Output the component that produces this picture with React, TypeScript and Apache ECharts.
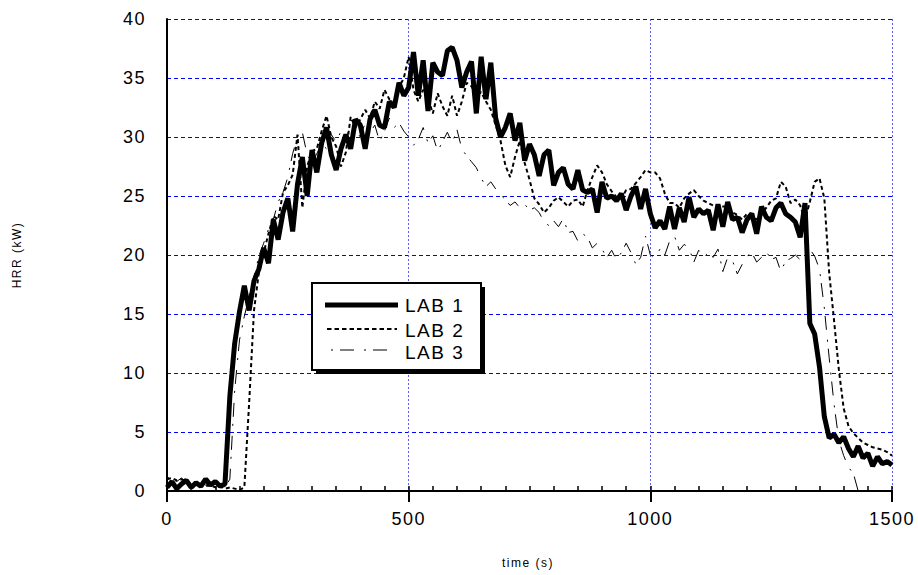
import React, { useEffect, useRef } from "react";
import * as echarts from "echarts";

// sampled every 10 s
const lab1: number[] = [
  0.3, 0.8, 0.2, 0.6, 0.9, 0.3, 0.7, 0.4, 1.0, 0.5,
  0.8, 0.4, 0.6, 8.0, 12.5, 15.2, 17.4, 15.3, 17.8, 18.8,
  20.6, 19.3, 23.0, 21.3, 23.6, 24.8, 22.0, 26.0, 28.3, 25.0,
  28.9, 27.0, 29.5, 30.8, 28.5, 27.2, 29.0, 30.2, 29.0, 31.5,
  31.0, 29.0, 31.5, 32.3, 31.0, 30.8, 33.0, 32.5, 34.6, 33.5,
  34.2, 37.2, 33.5, 36.5, 32.2, 36.3, 35.5, 35.2, 37.3, 37.6,
  36.5, 34.2, 35.5, 36.4, 32.0, 36.8, 33.2, 36.3, 31.6, 30.0,
  30.8, 32.0, 29.7, 31.2, 28.0, 29.4, 28.5, 26.7, 28.5, 28.9,
  25.9, 27.0, 27.4, 26.0, 25.6, 27.2, 25.5, 25.3, 25.6, 23.6,
  26.2, 24.8, 25.0, 24.6, 25.2, 23.8, 25.0, 25.8, 23.9, 25.6,
  23.5, 22.3, 22.9, 22.2, 24.1, 22.2, 24.0, 22.8, 24.9, 23.2,
  23.9, 23.5, 23.8, 22.1, 24.3, 22.4, 24.5, 23.0, 23.2, 21.9,
  23.0, 23.5, 21.8, 24.1, 23.2, 22.9, 24.0, 24.4, 23.5, 23.2,
  22.8, 21.5, 24.4, 14.2, 13.3, 10.5, 6.3, 4.5, 4.8, 4.1,
  4.6, 3.6, 2.9, 3.8, 2.8, 3.2, 2.1, 2.9, 2.3, 2.5,
  2.2,
];

const lab2: number[] = [
  1.0, 1.1, 0.9, 1.0, 0.8, 0.6, 0.5, 0.6, 0.4, 0.5,
  0.3, 0.4, 0.2, 0.3, 0.2, 0.1, 0.3, 7.5, 15.3, 18.5,
  20.2, 21.8, 23.3, 23.0, 25.3, 25.9, 26.8, 30.2, 24.0, 27.5,
  28.8, 29.0, 30.5, 31.8, 30.0, 29.2, 27.5, 28.7, 31.7, 30.8,
  31.5, 32.3, 31.6, 33.0, 32.4, 34.0, 33.2, 33.0, 34.2, 35.0,
  36.8, 34.0, 33.0, 34.0, 33.3, 32.0, 33.7, 32.6, 31.8, 33.5,
  31.8, 33.0, 34.6, 34.3, 33.5, 33.8, 33.0, 32.3, 31.0, 29.7,
  27.6, 26.6, 28.3, 29.7, 27.8, 26.4, 24.8, 24.3, 23.6, 24.0,
  24.6, 24.9, 24.5, 24.1, 24.6, 24.7, 24.1, 25.5, 26.6, 27.6,
  27.0, 26.0, 25.4, 24.9, 24.8, 25.5, 25.6, 26.1, 26.6, 27.2,
  27.0, 27.0, 26.5, 25.2, 24.4, 24.4, 24.0, 24.8, 25.2, 25.5,
  25.0, 24.6, 24.4, 24.2, 24.0, 24.1, 24.1, 23.6, 23.4, 23.0,
  23.5, 23.2, 23.0, 23.6, 24.0, 24.6, 24.8, 26.2, 25.8, 24.4,
  24.7, 24.2, 23.0, 24.5, 26.2, 26.5, 24.8, 18.5, 14.5, 10.3,
  7.0, 5.5, 4.9, 4.5, 4.1, 3.9, 3.7, 3.6, 3.5, 3.3,
  3.0,
];

const lab3: number[] = [
  1.2, 1.0, 0.8, 1.1, 0.7, 0.9, 0.6, 0.8, 0.5, 0.7,
  0.4, 0.6, 0.3, 1.0, 8.5, 12.8, 14.8, 16.5, 18.2, 19.9,
  21.0, 22.2, 23.0, 24.5, 25.3, 26.6, 28.6, 30.0, 30.4, 28.5,
  27.8, 28.6, 29.4, 29.0, 30.2, 29.6, 30.5, 29.8, 31.0, 30.6,
  30.0, 31.2, 30.4, 31.0, 29.6, 30.5, 31.6, 30.8, 31.2, 30.5,
  30.0, 29.3, 29.8, 30.8, 29.5, 30.1, 28.8, 29.6, 30.4, 29.5,
  30.6, 29.0, 28.4, 27.9, 27.4, 26.5, 25.8, 26.2, 25.6, 25.1,
  24.7, 24.2, 24.5, 24.0, 24.3, 23.8, 24.0, 23.6, 22.8, 22.5,
  22.9, 22.4, 23.1, 21.9, 22.0, 21.2, 21.8, 21.5, 20.6, 21.0,
  20.5, 19.8, 20.4, 19.6, 20.2, 21.0, 20.2, 19.2, 19.8, 21.6,
  20.0, 19.8, 20.5, 20.0, 21.2, 21.6, 20.4, 20.9, 20.6, 19.4,
  20.4, 19.8, 20.2, 19.8, 20.5, 18.6, 19.8, 19.5, 18.4, 19.2,
  19.9, 20.2, 19.4, 19.8, 20.3, 19.6, 19.8, 18.6, 19.5, 19.7,
  20.0, 19.6, 20.2, 20.5, 19.9, 18.8, 15.5, 11.3, 7.4, 4.3,
  3.0, 2.0, 1.5, 0.0,
];

const STEP = 10;
const seriesNames = ["LAB 1", "LAB 2", "LAB 3"];
const xTicks = { min: 0, max: 1500, interval: 500, minor: 50 };
const yTicks = { min: 0, max: 40, interval: 5 };

const toPairs = (vals: number[]) => vals.map((v, i) => [i * STEP, v]);

const FONT = "Liberation Sans, Arial, sans-serif";
const GRID = { left: 167, right: 26, top: 19, bottom: 84 };

export default function App() {
  const ref = useRef<HTMLDivElement>(null);
  useEffect(() => {
    if (!ref.current) return;
    const chart = echarts.init(ref.current, undefined, { renderer: "svg" });
    const blackLine = { show: true, lineStyle: { color: "#000", width: 2 } };
    chart.setOption({
      animation: false,
      backgroundColor: "#fff",
      grid: [
        { ...GRID, containLabel: false },
        { ...GRID, containLabel: false },
      ],
      xAxis: [
        {
          type: "value",
          gridIndex: 0,
          position: "bottom",
          min: xTicks.min,
          max: xTicks.max,
          interval: xTicks.interval,
          axisLine: blackLine,
          axisTick: { show: true, inside: false, length: 11, lineStyle: { color: "#000", width: 2 } },
          axisLabel: { color: "#000", fontSize: 18, fontFamily: FONT, margin: 19, formatter: (v: number) => String(v) },
          splitLine: { show: true, lineStyle: { color: "#5a5aff", width: 1, type: [2, 2] } },
        },
        {
          type: "value",
          gridIndex: 0,
          position: "top",
          min: xTicks.min,
          max: xTicks.max,
          axisLine: blackLine,
          axisTick: { show: false },
          axisLabel: { show: false },
          splitLine: { show: false },
        },
        {
          type: "value",
          gridIndex: 1,
          position: "bottom",
          min: xTicks.min,
          max: xTicks.max,
          interval: xTicks.minor,
          axisLine: { show: false },
          axisTick: { show: true, inside: true, length: 5, lineStyle: { color: "#000", width: 1.5 } },
          axisLabel: { show: false },
          splitLine: { show: false },
        },
      ],
      yAxis: [
        {
          type: "value",
          gridIndex: 0,
          position: "left",
          min: yTicks.min,
          max: yTicks.max,
          interval: yTicks.interval,
          axisLine: { show: false },
          axisTick: { show: false },
          axisLabel: { color: "#000", fontSize: 18, fontFamily: FONT, margin: 21 },
          splitLine: { show: true, lineStyle: { color: "#0000ff", width: 1, type: [4, 3] } },
        },
        {
          type: "value",
          gridIndex: 0,
          position: "right",
          min: yTicks.min,
          max: yTicks.max,
          axisLine: blackLine,
          axisTick: { show: false },
          axisLabel: { show: false },
          splitLine: { show: false },
        },
        {
          type: "value",
          gridIndex: 1,
          min: yTicks.min,
          max: yTicks.max,
          show: false,
        },
      ],
      series: [
        {
          name: seriesNames[2],
          type: "line",
          data: toPairs(lab3),
          showSymbol: false,
          symbol: "none",
          lineStyle: { color: "#000", width: 1, type: [2, 7, 14, 10] },
          z: 3,
        },
        {
          name: seriesNames[1],
          type: "line",
          data: toPairs(lab2),
          showSymbol: false,
          symbol: "none",
          lineStyle: { color: "#000", width: 2, type: [4, 3] },
          z: 4,
        },
        {
          name: seriesNames[0],
          type: "line",
          data: toPairs(lab1),
          showSymbol: false,
          symbol: "none",
          lineStyle: { color: "#000", width: 5 },
          z: 5,
        },
      ],
      graphic: [
        { type: "rect", z: 100, shape: { x: 316, y: 287, width: 169, height: 87 }, style: { fill: "#000" } },
        { type: "rect", z: 101, shape: { x: 312, y: 283, width: 169, height: 87 }, style: { fill: "#fff", stroke: "#000", lineWidth: 2 } },
        { type: "line", z: 102, shape: { x1: 325, y1: 305, x2: 398, y2: 305 }, style: { stroke: "#000", lineWidth: 5 } },
        { type: "line", z: 102, shape: { x1: 327, y1: 329, x2: 397, y2: 329 }, style: { stroke: "#000", lineWidth: 2, lineDash: [4.5, 3] } },
        { type: "line", z: 102, shape: { x1: 331, y1: 350, x2: 388, y2: 350 }, style: { stroke: "#000", lineWidth: 1, lineDash: [2, 7, 14, 10] } },
        { type: "text", z: 102, x: 405, y: 305, style: { text: seriesNames[0], fill: "#000", font: `19px ${FONT}`, align: "left", verticalAlign: "middle" } },
        { type: "text", z: 102, x: 405, y: 330, style: { text: seriesNames[1], fill: "#000", font: `19px ${FONT}`, align: "left", verticalAlign: "middle" } },
        { type: "text", z: 102, x: 405, y: 352, style: { text: seriesNames[2], fill: "#000", font: `19px ${FONT}`, align: "left", verticalAlign: "middle" } },
        { type: "text", z: 102, x: 528, y: 563, style: { text: "time (s)", fill: "#000", font: `12px ${FONT}`, align: "center", verticalAlign: "middle" } },
        { type: "text", z: 102, x: 17, y: 255, rotation: Math.PI / 2, style: { text: "HRR (kW)", fill: "#000", font: `12px ${FONT}`, align: "center", verticalAlign: "middle" } },
      ],
    });
    return () => chart.dispose();
  }, []);
  return (
    <>
      <style>{`#hrr-chart text{letter-spacing:1.5px}`}</style>
      <div
        id="hrr-chart"
        ref={ref}
        style={{ position: "fixed", left: 0, top: 0, width: 918, height: 575, background: "#fff" }}
      />
    </>
  );
}
